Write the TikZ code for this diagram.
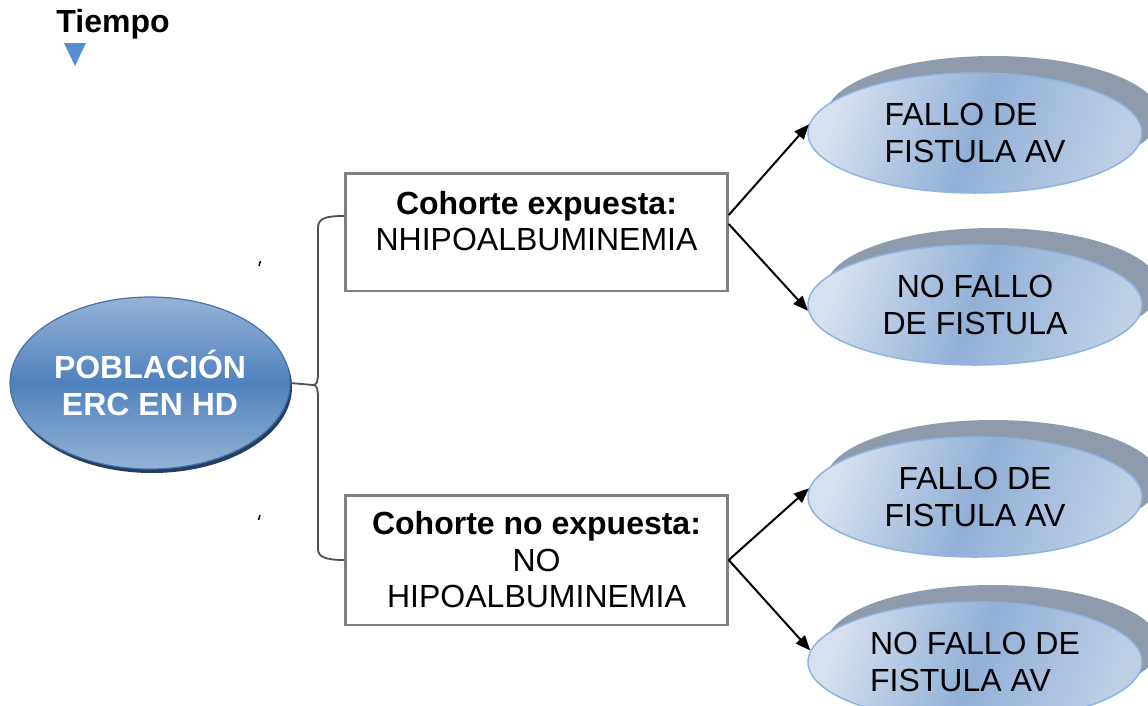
\documentclass[tikz,border=0pt]{standalone}
\usepackage{fontspec}
\setmainfont{Liberation Sans}
\usetikzlibrary{shapes.geometric,shadows,arrows.meta,calc}

\definecolor{poplight}{RGB}{149,179,215}
\definecolor{popmid}{RGB}{79,129,189}
\definecolor{popedge}{RGB}{70,115,170}
\definecolor{popshade}{RGB}{36,62,98}
\definecolor{outlight}{RGB}{214,224,238}
\definecolor{outmid}{RGB}{145,176,214}
\definecolor{outedge}{RGB}{142,180,227}
\definecolor{outshade}{RGB}{143,155,170}
\definecolor{boxgray}{RGB}{128,128,128}
\definecolor{bracegray}{RGB}{80,80,80}
\definecolor{timeblue}{RGB}{85,142,213}

\newcommand{\diagfont}{\fontsize{32}{36.5}\selectfont}

\tikzset{
  pop/.style={ellipse, draw=popedge, line width=1.2pt,
    top color=poplight, bottom color=poplight, middle color=popmid,
    minimum width=280pt, minimum height=172pt, inner sep=0pt,
    text=white, font=\diagfont\bfseries, align=center,
    drop shadow={shadow xshift=2pt, shadow yshift=-4pt, fill=popshade, opacity=1}},
  outcome/.style={ellipse, draw=outedge, line width=1.5pt,
    left color=outlight, right color=outlight!65!outmid, middle color=outmid,
    shading angle=70, minimum width=334pt, minimum height=120pt, inner sep=0pt,
    font=\diagfont,
    drop shadow={shadow xshift=18pt, shadow yshift=17pt, fill=outshade, opacity=1}},
  cohort/.style={rectangle, draw=boxgray, line width=2.5pt, minimum width=382pt},
  cohorttext/.style={font=\diagfont, align=center, inner sep=0pt},
  brace/.style={draw=bracegray, line width=1.8pt},
  link/.style={-{Triangle[length=15pt,width=12pt]}, line width=2pt},
}

\begin{document}
\begin{tikzpicture}[x=1pt, y=-1pt]
  \useasboundingbox (0,0) rectangle (1148,705);

  % time marker
  \node[font=\diagfont\bfseries, inner sep=0pt] (tiempo) at (113,24) {Tiempo};
  \fill[timeblue] (64,43) -- (86,43) -- (75,66) -- cycle;

  % population
  \node[pop] (pop) at (150,383) {POBLACIÓN\\ERC EN HD};

  % cohorts
  \node[cohort, minimum height=117.5pt] (box1) at (536.5,232) {};
  \node[cohorttext] (box1text) at (536.5,221)
    {\textbf{Cohorte expuesta:}\\NHIPOALBUMINEMIA};
  \node[cohort, minimum height=129.5pt, cohorttext, inner sep=0pt] (box2) at (536.5,560)
    {\textbf{Cohorte no expuesta:}\\NO\\HIPOALBUMINEMIA};

  % outcomes
  \node[outcome, align=left] (e1) at (975,133) {FALLO DE\\FISTULA AV};
  \node[outcome, align=center] (e2) at (975,305) {NO FALLO\\DE FISTULA};
  \node[outcome, align=center] (e3) at (975,497) {FALLO DE\\FISTULA AV};
  \node[outcome, align=left] (e4) at (975,662) {NO FALLO DE\\FISTULA AV};

  % brace
  \coordinate (cusp) at (313,385);
  \draw[brace] ($(box1.north west)+(0,44)$) .. controls (326,216) and (318,218) .. (318,228)
    -- (318,372) .. controls (318,381) and (317,385) .. (cusp)
    .. controls (317,385) and (318,389) .. (318,398)
    -- (318,549) .. controls (318,557) and (326,560) .. (box2.west);
  \draw[brace] (pop.east) -- (cusp);

  % stray marks
  \draw[line width=1.5pt] (259,266) -- (260.5,261);
  \draw[line width=1.5pt] (258.5,520) -- (260,515);

  % arrows
  \begin{scope}[link]
    \draw ([yshift=17pt]box1.east) to (e1.177);
    \draw ([yshift=8pt]box1.east) to (e2.182);
    \draw (box2.east) to (e3.177);
    \draw (box2.east) to (e4.176);
  \end{scope}
\end{tikzpicture}
\end{document}
